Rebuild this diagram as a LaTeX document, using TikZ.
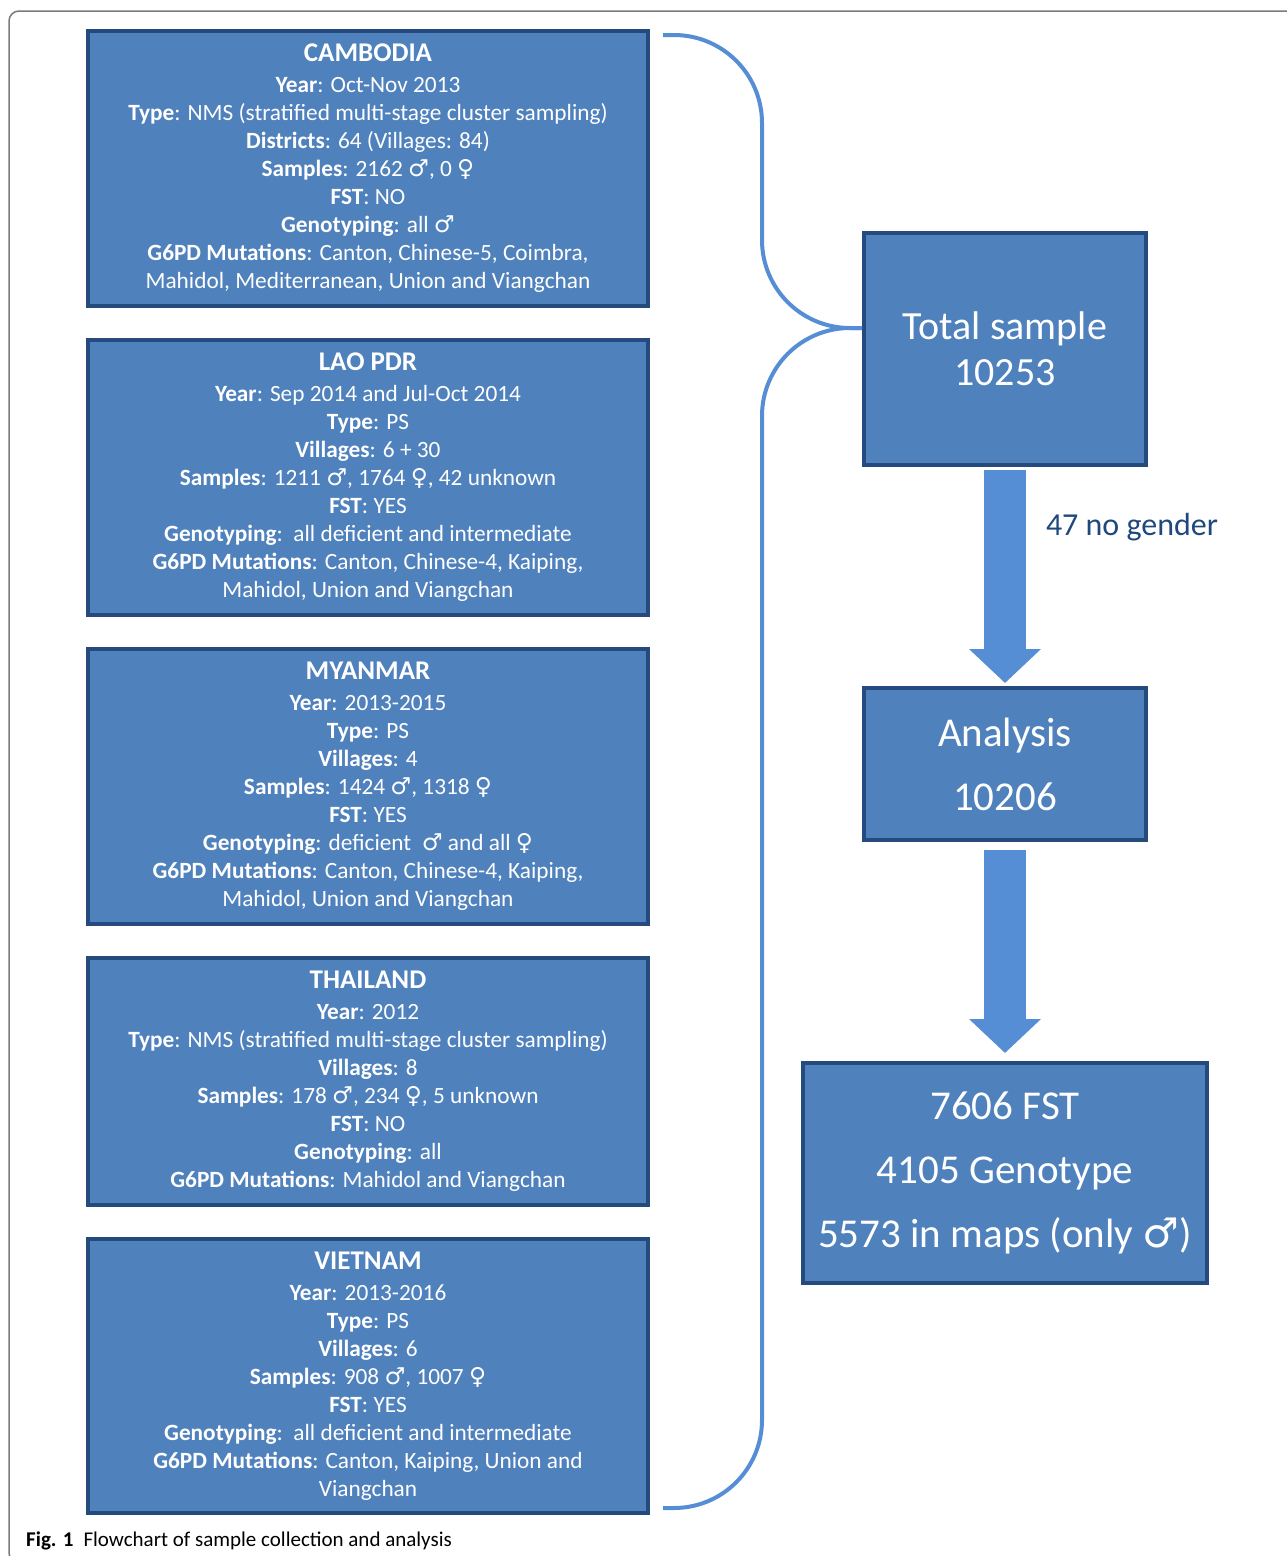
\documentclass[tikz,border=0pt]{standalone}
\usepackage{fontspec}
\setmainfont{Carlito}
\newfontfamily\symfont{DejaVu Sans}
\usetikzlibrary{arrows.meta,calc,positioning}

\definecolor{boxfill}{HTML}{4F81BD}
\definecolor{boxline}{HTML}{254A7D}
\definecolor{flowblue}{HTML}{558ED5}
\definecolor{labelblue}{HTML}{1F497D}
\definecolor{framegray}{HTML}{7A7A7A}

\newcommand{\fld}[1]{\textbf{#1}:}
\newcommand{\msym}{{\symfont ♂}}
\newcommand{\fsym}{{\symfont ♀}}
\newcommand{\ctitle}[1]{{\fontsize{27}{31}\selectfont\textbf{#1}}\\[3pt]}

\begin{document}
\begin{tikzpicture}[x=1pt, y=-1pt,
        countrybox/.style={draw=boxline, line width=4pt, fill=boxfill, text=white,
            minimum width=560pt, align=center, inner sep=0pt,
            font=\fontsize{23.3}{28}\selectfont},
        stepbox/.style={draw=boxline, line width=4pt, fill=boxfill, text=white,
            minimum width=282pt, align=center, inner sep=0pt,
            font=\fontsize{41}{64}\selectfont},
        flowarrow/.style={flowblue, line width=42pt,
            -{Triangle[width=70pt, length=34pt]}},
        brace/.style={flowblue, line width=4pt, rounded corners=88pt}
    ]
        \useasboundingbox (0, 0) rectangle (1287, 1556);
        \draw[framegray, line width=1.5pt, rounded corners=10pt] (1300, 11) -- (9, 11) -- (9, 1563) -- (1300, 1563);

        \node[countrybox, minimum height=275pt] (cambodia) at (368, 168.5) {\ctitle{CAMBODIA}
            \fld{Year} Oct-Nov 2013\\
            \fld{Type} NMS (stratified multi-stage cluster sampling)\\
            \fld{Districts} 64 (Villages: 84)\\
            \fld{Samples} 2162 \msym, 0 \fsym\\
            \fld{FST} NO\\
            \fld{Genotyping} all \msym\\
            \fld{G6PD Mutations} Canton, Chinese-5, Coimbra,\\
            Mahidol, Mediterranean, Union and Viangchan};

        \node[countrybox, minimum height=275pt] (lao) at (368, 477.5) {\ctitle{LAO PDR}
            \fld{Year} Sep 2014 and Jul-Oct 2014\\
            \fld{Type} PS\\
            \fld{Villages} 6 + 30\\
            \fld{Samples} 1211 \msym, 1764 \fsym, 42 unknown\\
            \fld{FST} YES\\
            \fld{Genotyping}\ \ all deficient and intermediate\\
            \fld{G6PD Mutations} Canton, Chinese-4, Kaiping,\\
            Mahidol, Union and Viangchan};

        \node[countrybox, minimum height=275pt] (myanmar) at (368, 786.5) {\ctitle{MYANMAR}
            \fld{Year} 2013-2015\\
            \fld{Type} PS\\
            \fld{Villages} 4\\
            \fld{Samples} 1424 \msym, 1318 \fsym\\
            \fld{FST} YES\\
            \fld{Genotyping} deficient\ \ \msym\ and all \fsym\\
            \fld{G6PD Mutations} Canton, Chinese-4, Kaiping,\\
            Mahidol, Union and Viangchan};

        \node[countrybox, minimum height=247pt] (thailand) at (368, 1081.5) {\ctitle{THAILAND}
            \fld{Year} 2012\\
            \fld{Type} NMS (stratified multi-stage cluster sampling)\\
            \fld{Villages} 8\\
            \fld{Samples} 178 \msym, 234 \fsym, 5 unknown\\
            \fld{FST} NO\\
            \fld{Genotyping} all\\
            \fld{G6PD Mutations} Mahidol and Viangchan};

        \node[countrybox, minimum height=274pt] (vietnam) at (368, 1376) {\ctitle{VIETNAM}
            \fld{Year} 2013-2016\\
            \fld{Type} PS\\
            \fld{Villages} 6\\
            \fld{Samples} 908 \msym, 1007 \fsym\\
            \fld{FST} YES\\
            \fld{Genotyping}\ \ all deficient and intermediate\\
            \fld{G6PD Mutations} Canton, Kaiping, Union and\\
            Viangchan};

        \node[stepbox, minimum height=232pt, font=\fontsize{40}{46}\selectfont] (total) at (1005, 349) {Total sample\\10253};
        \node[stepbox, minimum height=152pt] (analysis) at (1005, 764) {Analysis\\10206};
        \node[stepbox, minimum width=404pt, minimum height=220pt] (results) at (1005, 1173) {7606 FST\\4105 Genotype\\5573 in maps (only \msym)};

        \coordinate (tip) at (total.west |- 0, 328);
        \draw[brace] ($(cambodia.north east)+(13, 6)$) -- ++(99, 0) |- (tip);
        \draw[brace] (tip) -| ($(vietnam.south east)+(112, -7)$) -- ++(-99, 0);

        \draw[flowarrow] ($(total.south)+(0, 3)$) -- ($(analysis.north)+(0, -3)$)
            node[pos=0.27, anchor=west, xshift=20pt, inner sep=0pt, text=labelblue, font=\fontsize{32}{38}\selectfont] (nogender) {47 no gender};
        \draw[flowarrow] ($(analysis.south)+(0, 8)$) -- ($(results.north)+(0, -8)$);

        \node[anchor=base west, inner sep=0pt, font=\fontsize{21}{25}\selectfont] (caption) at (26, 1546) {\textbf{Fig. 1}\hspace{10pt}Flowchart of sample collection and analysis};
    \end{tikzpicture}
\end{document}
